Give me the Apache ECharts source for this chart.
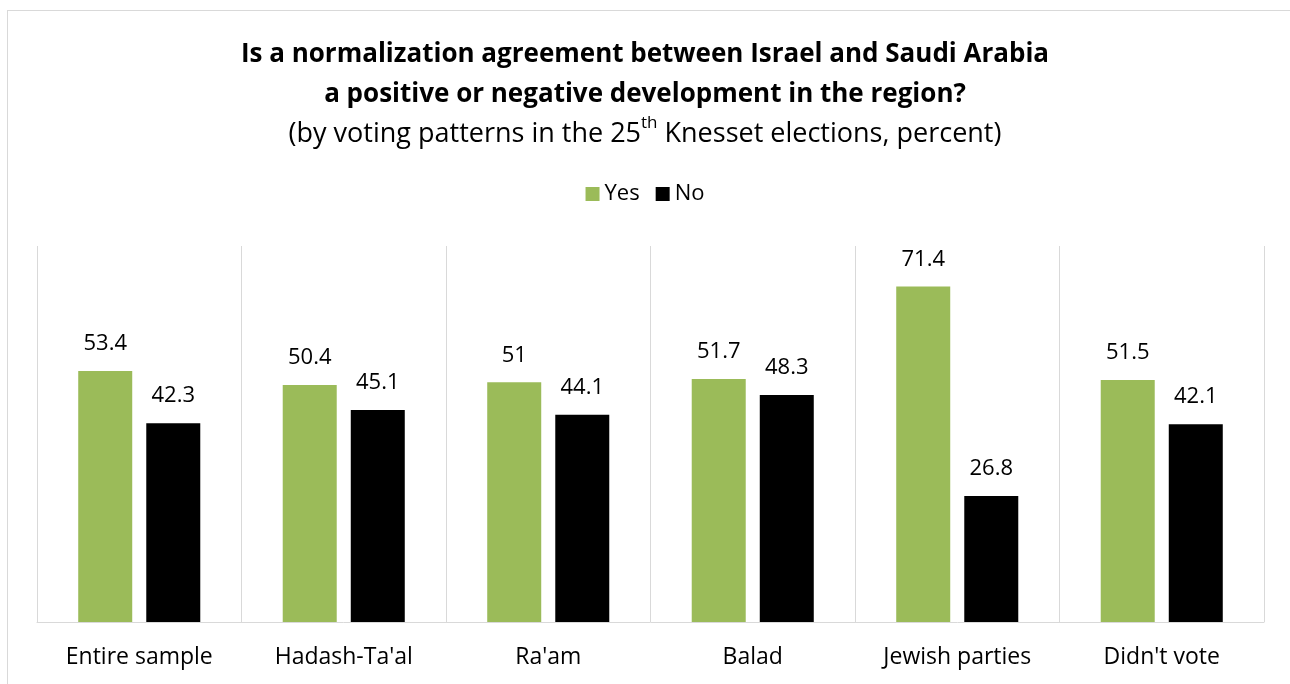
<!DOCTYPE html>
<html>
<head>
    <meta charset="utf-8"/>
    <title>Normalization agreement</title>
    <script src="https://cdn.jsdelivr.net/npm/echarts@6/dist/echarts.min.js"></script>
    <style>
        html, body { margin: 0; padding: 0; background: #ffffff; }
        #frame {
            position: absolute; left: 7px; top: 10px; width: 1300px; height: 700px;
            border: 1px solid #d9d9d9; box-sizing: border-box;
        }
        #chart { width: 1290px; height: 684px; position: absolute; left: 0; top: 0; }
    </style>
</head>
<body>
<div id="frame"></div>
<div id="chart"></div>
<script>
var categories = ["Entire sample", "Hadash-Ta'al", "Ra'am", "Balad", "Jewish parties", "Didn't vote"];
var yesValues = [53.4, 50.4, 51, 51.7, 71.4, 51.5];
var noValues = [42.3, 45.1, 44.1, 48.3, 26.8, 42.1];

var font = "Open Sans";

var chart = echarts.init(document.getElementById("chart"));
var option = {
    animation: false,
    title: [{
        text: "Is a normalization agreement between Israel and Saudi Arabia\na positive or negative development in the region?",
        left: "center",
        top: 30,
        textStyle: { fontFamily: font, fontSize: 26, fontWeight: "bold", color: "#000", lineHeight: 40 },
        subtext: "(by voting patterns in the 25{sup|th} Knesset elections, percent)",
        itemGap: 0,
        subtextStyle: {
            fontFamily: font, fontSize: 27, color: "#000", lineHeight: 38,
            rich: {
                sup: { fontFamily: font, fontSize: 17, color: "#000", verticalAlign: "top", padding: [0, 0, 12, 0] }
            }
        }
    }],
    legend: {
        data: ["Yes", "No"],
        top: 178,
        left: "center",
        icon: "rect",
        itemWidth: 14,
        itemHeight: 14,
        itemGap: 16,
        textStyle: { fontFamily: font, fontSize: 22, color: "#000" }
    },
    grid: { left: 37, right: 26, top: 246, bottom: 62 },
    xAxis: {
        type: "category",
        data: categories,
        axisLine: { lineStyle: { color: "#d9d9d9", width: 1 } },
        axisTick: { show: false },
        splitLine: { show: true, lineStyle: { color: "#d9d9d9", width: 1 } },
        axisLabel: { fontFamily: font, fontSize: 23, color: "#000", margin: 24 }
    },
    yAxis: {
        type: "value",
        min: 0,
        max: 80,
        show: false,
        splitLine: { show: false }
    },
    series: [{
        name: "Yes",
        type: "bar",
        data: yesValues,
        barWidth: 54,
        barGap: "26%",
        itemStyle: { color: "#9bbb59" },
        label: { show: true, position: "top", distance: 16, fontFamily: font, fontSize: 22, color: "#000" }
    }, {
        name: "No",
        type: "bar",
        data: noValues,
        barWidth: 54,
        itemStyle: { color: "#000000" },
        label: { show: true, position: "top", distance: 16, fontFamily: font, fontSize: 22, color: "#000" }
    }]
};
chart.setOption(option);
</script>
</body>
</html>
